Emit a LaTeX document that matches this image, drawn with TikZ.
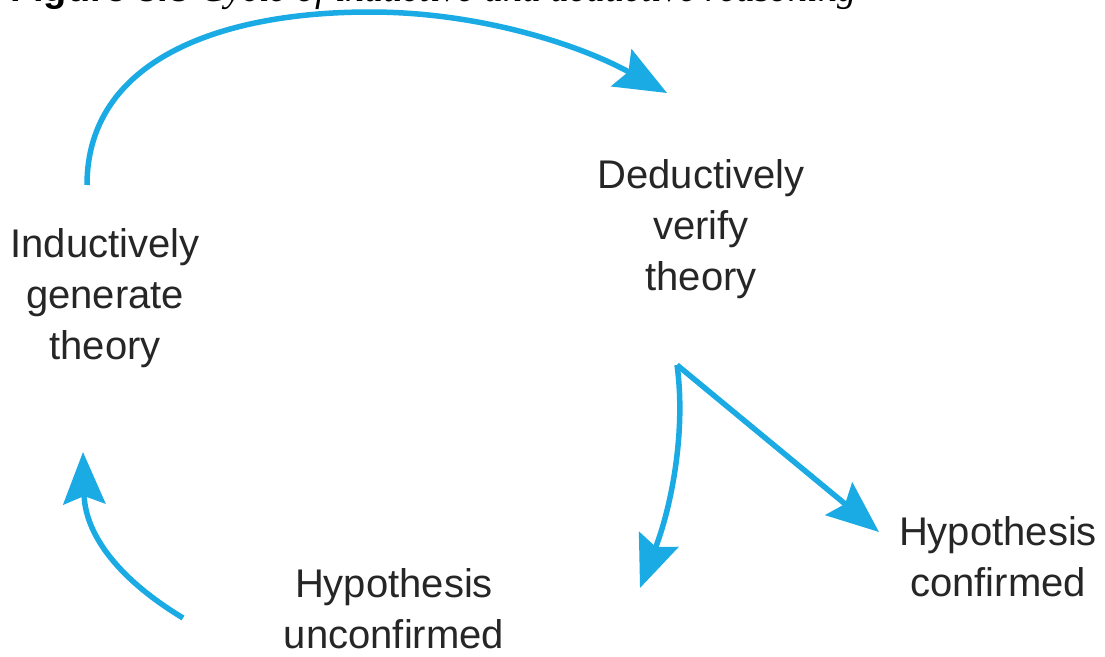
\documentclass[tikz,border=0pt]{standalone}
\usepackage{fontspec}
\setmainfont{Liberation Sans}
\newfontfamily\capserif{Liberation Serif}
\usetikzlibrary{arrows.meta}
\definecolor{arrowblue}{RGB}{26,170,228}
\tikzset{
  label/.style={font=\fontsize{40}{51}\selectfont, align=center, anchor=base, inner sep=0pt, text=black!85},
  flow/.style={draw=arrowblue, line width=5.5pt, -{Stealth[length=52pt,width=42pt,inset=8pt]}},
}
\begin{document}
\begin{tikzpicture}[x=1pt,y=1pt]
\useasboundingbox (0,0) rectangle (1105,-656);
\clip (0,0) rectangle (1105,-656);
\fill[white] (0,0) rectangle (1105,-656);
% cut-off caption
\node[anchor=base west, inner sep=0pt, font=\fontsize{38}{46}\selectfont] (cap) at (10,-1)
  {\textbf{Figure 3.3}\ \capserif\itshape Cycle of inductive and deductive reasoning};
% labels (anchor = baseline of last line)
\node[label] (ind) at (105,-359) {Inductively\\generate\\theory};
\node[label] (ded) at (701,-290) {Deductively\\verify\\theory};
\node[label] (conf) at (998,-596) {Hypothesis\\confirmed};
\node[label] (unconf) at (394,-648) {Hypothesis\\unconfirmed};
% connector end points
\coordinate (indtop) at (87,-185);
\coordinate (dedin) at (667,-93);
\coordinate (dedout) at (677,-365);
\coordinate (conftip) at (879,-532);
\coordinate (unctip) at (640,-588);
\coordinate (uncout) at (183,-618);
\coordinate (indin) at (83,-452);
% connectors
\draw[flow] (indtop) .. controls (87,-60) and (220,-12) .. (370,-12)
  .. controls (480,-12) and (580,-45) .. (dedin);
\draw[flow] (dedout) -- (conftip);
\draw[flow] (dedout) .. controls (686,-430) and (672,-505) .. (unctip);
\draw[flow] (uncout) .. controls (112,-575) and (85,-530) .. (indin);
\end{tikzpicture}
\end{document}
